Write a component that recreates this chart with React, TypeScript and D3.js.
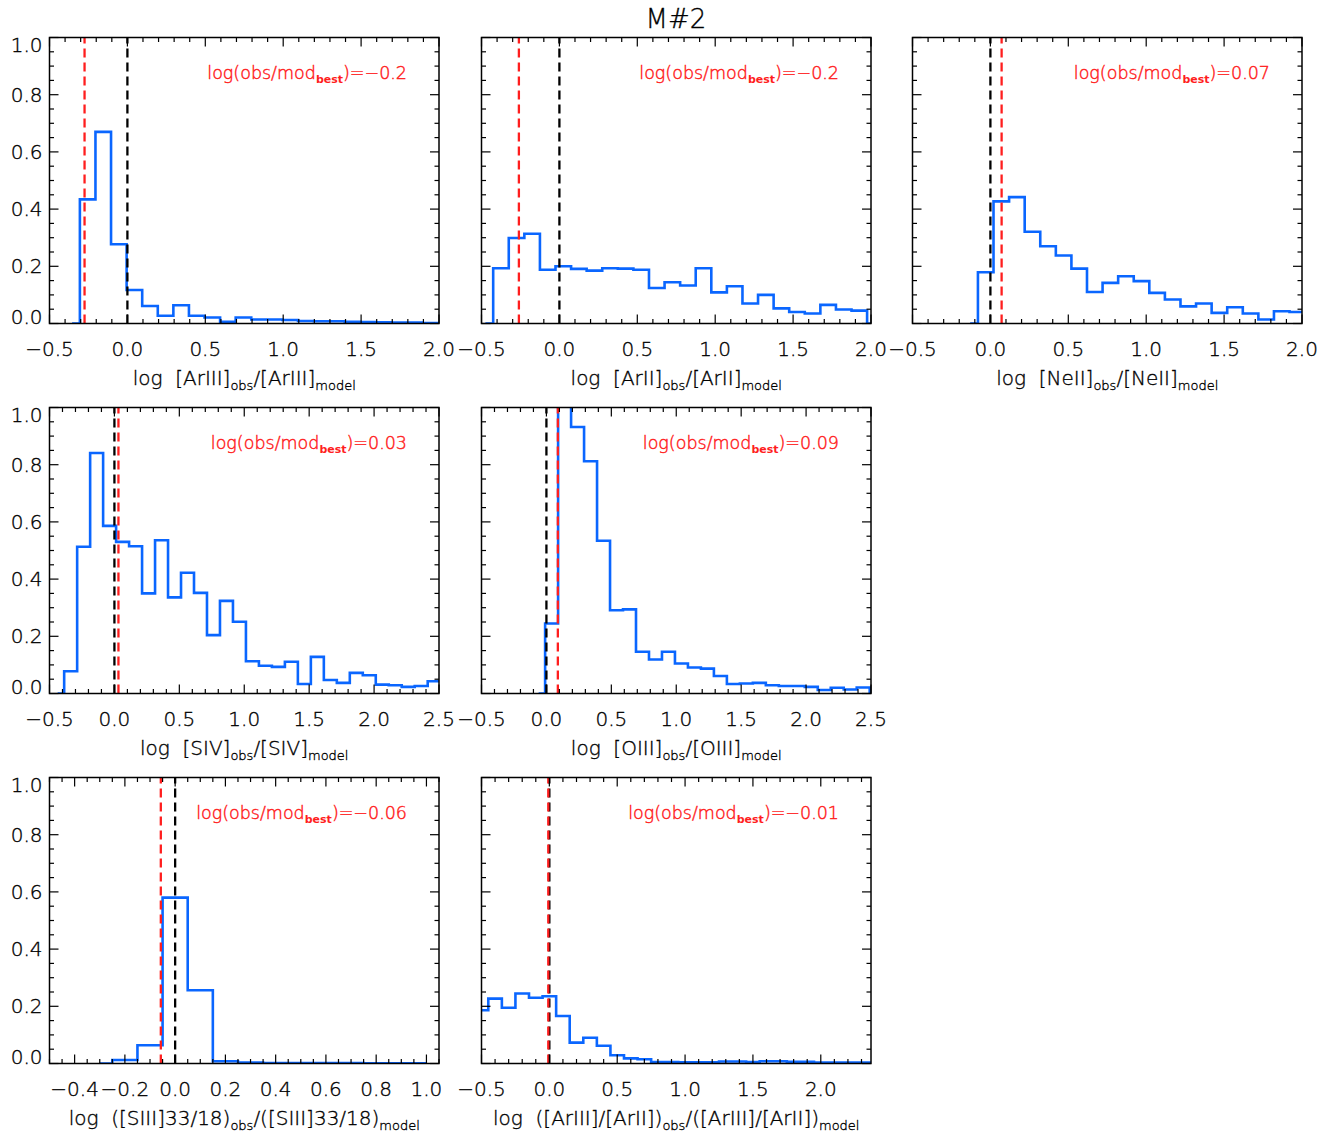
import React from 'react';
import * as d3 from 'd3';

const W = 1338;
const H = 1139;
const BIN = 0.1;

// ---------- histogram values (first entry = centre of first plotted point) ----------
const arIIIStart = -0.355;
const arIIIValues = [0, 0.434, 0.670, 0.277, 0.117, 0.061, 0.027, 0.064, 0.027, 0.021, 0.006, 0.021, 0.014, 0.014, 0.012, 0.009, 0.008, 0.008, 0.006, 0.005, 0.004, 0.003, 0.003, 0.002, 0.002];

const arIIStart = -0.475;
const arIIValues = [0, 0.193, 0.299, 0.314, 0.188, 0.200, 0.191, 0.185, 0.193, 0.192, 0.188, 0.124, 0.144, 0.133, 0.193, 0.109, 0.130, 0.070, 0.100, 0.053, 0.040, 0.035, 0.065, 0.049, 0.045, 0];

const neIIStart = -0.13;
const neIIValues = [0, 0.179, 0.427, 0.442, 0.321, 0.270, 0.238, 0.192, 0.110, 0.142, 0.165, 0.148, 0.107, 0.084, 0.060, 0.070, 0.037, 0.057, 0.035, 0.014, 0.043, 0.040, 0.040];

const sIVStart = -0.437;
const sIVValues = [0, 0.078, 0.513, 0.841, 0.586, 0.530, 0.515, 0.350, 0.536, 0.336, 0.422, 0.352, 0.204, 0.324, 0.251, 0.113, 0.097, 0.093, 0.111, 0.033, 0.128, 0.047, 0.037, 0.072, 0.064, 0.031, 0.029, 0.023, 0.026, 0.043, 0.043];

const oIIIStart = -0.06;
const oIIIValues = [0, 0.245, 1.2, 0.932, 0.812, 0.534, 0.291, 0.294, 0.146, 0.119, 0.146, 0.105, 0.091, 0.087, 0.061, 0.033, 0.035, 0.037, 0.029, 0.026, 0.026, 0.023, 0.012, 0.020, 0.014, 0.021, 0];

const sIIIStart = -0.3;
const sIIIValues = [0, 0.012, 0.064, 0.580, 0.256, 0.008, 0.003, 0.002, 0.002, 0.002, 0.002, 0.001, 0.001, 0.001];

const ratioStart = -0.5;
const ratioValues = [0.186, 0.227, 0.195, 0.245, 0.230, 0.235, 0.166, 0.073, 0.090, 0.062, 0.029, 0.018, 0.015, 0.005, 0.005, 0.004, 0.004, 0.004, 0.007, 0.007, 0.005, 0.008, 0.008, 0.006, 0.006, 0.003, 0.003, 0.003, 0.003, 0.003];

// ---------- best-model offsets ----------
const bestValues = [-0.275, -0.26, 0.072, 0.031, 0.088, -0.057, -0.008];
const bestLabels = ['−0.2', '−0.2', '0.07', '0.03', '0.09', '−0.06', '−0.01'];

// ---------- axes ----------
const xDomains: [number, number][] = [[-0.5, 2.0], [-0.5, 2.0], [-0.5, 2.0], [-0.5, 2.5], [-0.5, 2.5], [-0.5, 1.05], [-0.5, 2.37]];
const xTicksA = [-0.5, 0, 0.5, 1.0, 1.5, 2.0];
const xTicksB = [-0.5, 0, 0.5, 1.0, 1.5, 2.0, 2.5];
const xTicksC = [-0.4, -0.2, 0, 0.2, 0.4, 0.6, 0.8, 1.0];
const yTicks = [0, 0.2, 0.4, 0.6, 0.8, 1.0];

// ---------- titles ----------
const titles: [string, string][][] = [
  [['log  [ArIII]', ''], ['obs', 's'], ['/[ArIII]', ''], ['model', 's']],
  [['log  [ArII]', ''], ['obs', 's'], ['/[ArII]', ''], ['model', 's']],
  [['log  [NeII]', ''], ['obs', 's'], ['/[NeII]', ''], ['model', 's']],
  [['log  [SIV]', ''], ['obs', 's'], ['/[SIV]', ''], ['model', 's']],
  [['log  [OIII]', ''], ['obs', 's'], ['/[OIII]', ''], ['model', 's']],
  [['log  ([SIII]33/18)', ''], ['obs', 's'], ['/([SIII]33/18)', ''], ['model', 's']],
  [['log  ([ArIII]/[ArII])', ''], ['obs', 's'], ['/([ArIII]/[ArII])', ''], ['model', 's']],
];

const FONT = 'DejaVu Sans, sans-serif';
const FW = 300;
const BLUE = '#0a66ff';
const RED = '#ff1e1e';

const colLefts = [49.5, 481.5, 912.5];
const rowTops = [37.5, 407.5, 777.5];
const PW = 389.5;
const PH = 286;

const panels = [
  { col: 0, row: 0, start: arIIIStart, values: arIIIValues, ticks: xTicksA, minor: 0.1, showY: true },
  { col: 1, row: 0, start: arIIStart, values: arIIValues, ticks: xTicksA, minor: 0.1, showY: false },
  { col: 2, row: 0, start: neIIStart, values: neIIValues, ticks: xTicksA, minor: 0.1, showY: false },
  { col: 0, row: 1, start: sIVStart, values: sIVValues, ticks: xTicksB, minor: 0.1, showY: true },
  { col: 1, row: 1, start: oIIIStart, values: oIIIValues, ticks: xTicksB, minor: 0.1, showY: false },
  { col: 0, row: 2, start: sIIIStart, values: sIIIValues, ticks: xTicksC, minor: 0.05, showY: true },
  { col: 1, row: 2, start: ratioStart, values: ratioValues, ticks: xTicksA, minor: 0.1, showY: false },
];

const fmt = d3.format('.1f');
const txtBlack = { fill: '#000', stroke: '#000', strokeWidth: 0.35, fontWeight: FW, fontFamily: FONT } as const;

function Panel({ p, i }: { p: any; i: number }) {
  const left = colLefts[p.col];
  const top = rowTops[p.row];
  const [x0, x1] = xDomains[i];
  const x = d3.scaleLinear().domain([x0, x1]).range([left, left + PW]);
  const y = d3.scaleLinear().domain([0, 1]).range([top + PH, top]);
  const pts: [number, number][] = p.values.map((v: number, k: number) => [p.start + k * BIN, v]);
  const line = d3.line<[number, number]>().x((d) => x(d[0])).y((d) => y(d[1])).curve(d3.curveStep);
  const bottom = top + PH;
  const right = left + PW;
  const eps = 1e-6;
  const minorX = d3.range(Math.ceil((x0 - eps) / p.minor), Math.floor((x1 + eps) / p.minor) + 1).map((k) => k * p.minor);
  const minorY = d3.range(0, 21).map((k) => k * 0.05);
  const majL = 9;
  const minL = 4.5;
  const isMajorX = (v: number) => p.ticks.some((t: number) => Math.abs(t - v) < 1e-6);
  const isMajorY = (v: number) => yTicks.some((t) => Math.abs(t - v) < 1e-6);
  const cid = `clip${i}`;
  const cx = (left + right) / 2;
  return (
    <g>
      <defs>
        <clipPath id={cid}>
          <rect x={left} y={top} width={PW} height={PH} />
        </clipPath>
      </defs>
      <g clipPath={`url(#${cid})`}>
        <path d={line(pts) || ''} fill="none" stroke={BLUE} strokeWidth={2.6} strokeLinejoin="miter" />
        <line x1={x(0)} x2={x(0)} y1={bottom} y2={top} stroke="#000" strokeWidth={2.3} strokeDasharray="9,5" />
        <line x1={x(bestValues[i])} x2={x(bestValues[i])} y1={bottom} y2={top} stroke={RED} strokeWidth={2.3} strokeDasharray="9,5" />
      </g>
      {minorX.map((v, k) => {
        const L = isMajorX(v) ? majL : minL;
        return (
          <g key={'x' + k}>
            <line x1={x(v)} x2={x(v)} y1={bottom} y2={bottom - L} stroke="#000" strokeWidth={1.2} />
            <line x1={x(v)} x2={x(v)} y1={top} y2={top + L} stroke="#000" strokeWidth={1.2} />
          </g>
        );
      })}
      {minorY.map((v, k) => {
        const L = isMajorY(v) ? majL : minL;
        return (
          <g key={'y' + k}>
            <line x1={left} x2={left + L} y1={y(v)} y2={y(v)} stroke="#000" strokeWidth={1.2} />
            <line x1={right} x2={right - L} y1={y(v)} y2={y(v)} stroke="#000" strokeWidth={1.2} />
          </g>
        );
      })}
      <rect x={left} y={top} width={PW} height={PH} fill="none" stroke="#000" strokeWidth={1.5} />
      {p.ticks.map((t: number, k: number) => (
        <text key={'xl' + k} x={x(t)} y={bottom + 25} fontSize={20} {...txtBlack} textAnchor="middle" dominantBaseline="central">
          {fmt(t)}
        </text>
      ))}
      {p.showY &&
        yTicks.map((t, k) => {
          let yy = y(t);
          if (k === 0) yy -= 7;
          if (k === yTicks.length - 1) yy += 7.5;
          return (
            <text key={'yl' + k} x={left - 7} y={yy} fontSize={20} {...txtBlack} textAnchor="end" dominantBaseline="central">
              {fmt(t)}
            </text>
          );
        })}
      <text x={cx} y={bottom + 61} fontSize={20} {...txtBlack} textAnchor="middle" style={{ whiteSpace: 'pre' }}>
        {titles[i].map(([s, kind], k) => {
          const prevSub = k > 0 && titles[i][k - 1][1] === 's';
          const dy = kind === 's' ? 5 : prevSub ? -5 : 0;
          return (
            <tspan key={k} fontSize={kind === 's' ? 13 : 20} dy={dy}>
              {s}
            </tspan>
          );
        })}
      </text>
      <text x={right - 32} y={top + 41.5} fontSize={17.5} fontWeight={FW} fontFamily={FONT} textAnchor="end" fill={RED} stroke={RED} strokeWidth={0.45}>
        <tspan>log(obs/mod</tspan>
        <tspan fontSize={11} fontWeight="bold" strokeWidth={0} dy={4}>best</tspan>
        <tspan dy={-4}>{')=' + bestLabels[i]}</tspan>
      </text>
    </g>
  );
}

export default function App() {
  return (
    <svg width={W} height={H} style={{ position: 'absolute', left: 0, top: 0, background: '#fff' }} xmlns="http://www.w3.org/2000/svg">
      <rect x={0} y={0} width={W} height={H} fill="#fff" />
      <text x={676} y={19} fontSize={26} {...txtBlack} textAnchor="middle" dominantBaseline="central">
        M#2
      </text>
      {panels.map((p, i) => (
        <Panel key={i} p={p} i={i} />
      ))}
    </svg>
  );
}
